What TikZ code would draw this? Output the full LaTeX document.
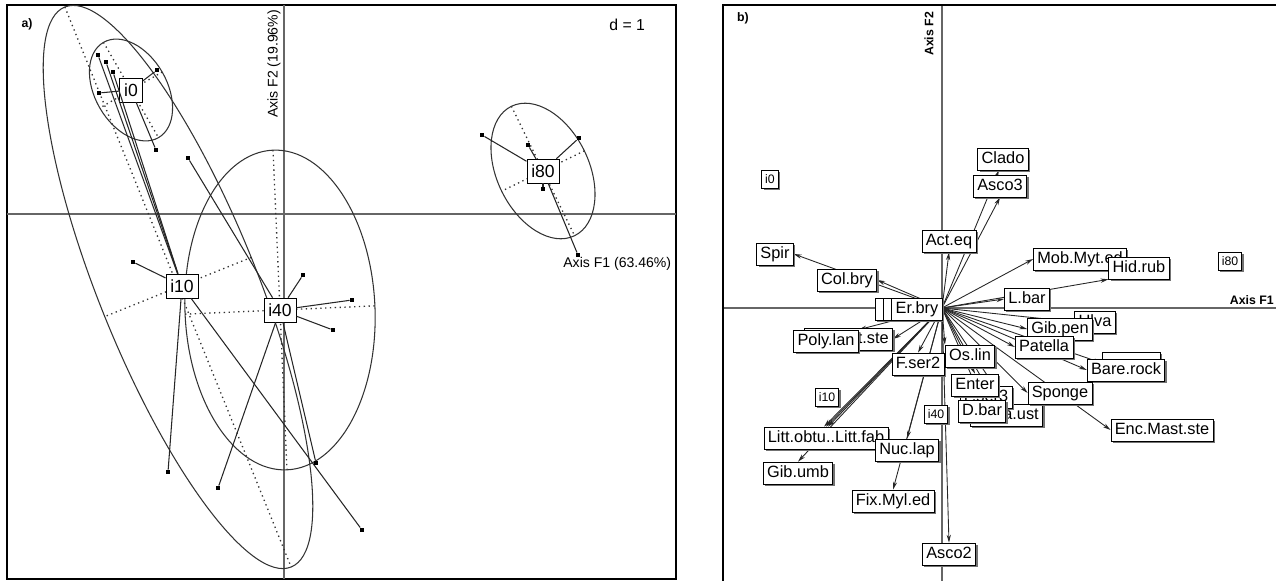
\documentclass[tikz,border=0pt]{standalone}
\usepackage{fontspec}
\setmainfont{Liberation Sans}
\usetikzlibrary{calc,positioning,arrows.meta,shadows,backgrounds}

\tikzset{
  axisline/.style={draw=black!60, line width=1.2pt},
  frameline/.style={draw=black, line width=0.9pt},
  ell/.style={draw=black!80, line width=0.6pt},
  ellaxis/.style={draw=black!80, line width=0.75pt, dotted},
  spoke/.style={draw=black!85, line width=0.6pt},
  pt/.style={fill=black, inner sep=0pt, minimum size=2.4pt},
  grp/.style={draw, fill=white, inner xsep=2.5pt, inner ysep=3pt, text height=7.3pt, text depth=0.3pt, font=\fontsize{10}{12}\selectfont},
  spc/.style={draw, fill=white, inner xsep=2.2pt, inner ysep=1.75pt, text height=7pt, text depth=2pt, font=\fontsize{9.3}{11}\selectfont, drop shadow={shadow xshift=1.1pt, shadow yshift=-1.1pt, fill=black!55, opacity=1}},
  smallgrp/.style={spc, inner xsep=2pt, inner ysep=2.5pt, text height=5.2pt, text depth=0.2pt, font=\fontsize{7}{8}\selectfont},
  axislabel/.style={font=\fontsize{8}{9}\selectfont, inner sep=0pt},
  arr/.style={draw=black!85, line width=0.5pt, -{Stealth[length=4.5pt, width=2.4pt]}},
}

\begin{document}
\begin{tikzpicture}[x=0.02cm, y=-0.02cm]
    \useasboundingbox (0,0) rectangle (1276,581);

    % a) classes
    \draw[frameline] (7,5) rectangle (676,579);
    \begin{scope}
        \clip (7,5) rectangle (676,579);
        \draw[axisline] (7,214) -- (676,214);
        \draw[axisline] (284,5) -- (284,579);
        \begin{scope}[rotate around={-60:(131,90)}]
            \draw[ell] (131,90) ellipse [x radius=55, y radius=36];
            \draw[ellaxis] (76,90) -- (186,90) (131,54) -- (131,126);
        \end{scope}
        \begin{scope}[rotate around={-68:(178,287)}]
            \draw[ell] (178,287) ellipse [x radius=302, y radius=79];
            \draw[ellaxis] (-124,287) -- (480,287) (178,208) -- (178,366);
        \end{scope}
        \begin{scope}[rotate around={2.5:(280,310)}]
            \draw[ell] (280,310) ellipse [x radius=95, y radius=160];
            \draw[ellaxis] (185,310) -- (375,310) (280,150) -- (280,470);
        \end{scope}
        \begin{scope}[rotate around={-64:(543,171)}]
            \draw[ell] (543,171) ellipse [x radius=72, y radius=46];
            \draw[ellaxis] (471,171) -- (615,171) (543,125) -- (543,217);
        \end{scope}
    \end{scope}

    \node[grp] (i0) at (131,90) {i0};
    \node[grp] (i10) at (182,286) {i10};
    \node[grp] (i40) at (280,310) {i40};
    \node[grp] (i80) at (543,171) {i80};

    \foreach \p [count=\k] in {(157,70),(99,93),(156,150)} {
        \node[pt] (pa\k) at \p {};
        \draw[spoke] (i0) -- (pa\k);
    }
    \foreach \p [count=\k] in {(98,55),(106,62),(113,72),(133,262),(168,472),(362,530)} {
        \node[pt] (pb\k) at \p {};
        \draw[spoke] (i10) -- (pb\k);
    }
    \foreach \p [count=\k] in {(188,158),(303,275),(352,300),(333,330),(218,488),(316,463)} {
        \node[pt] (pc\k) at \p {};
        \draw[spoke] (i40) -- (pc\k);
    }
    \foreach \p [count=\k] in {(482,135),(579,138),(528,145),(543,189),(578,255)} {
        \node[pt] (pd\k) at \p {};
        \draw[spoke] (i80) -- (pd\k);
    }

    \node[font=\bfseries\fontsize{7}{8}\selectfont] (tagA) at (27,24) {a)};
    \node[font=\fontsize{9}{10}\selectfont, anchor=west, inner sep=0pt] (scaleA) at (609,25) {d = 1};
    \node[axislabel, rotate=90] (axF2a) at (274,64) {Axis F2 (19.96\%)};
    \node[axislabel, anchor=west] (axF1a) at (563,264) {Axis F1 (63.46\%)};

    % b) species
    \draw[frameline] (723,581) -- (723,5) -- (1276,5);
    \coordinate (O) at (942,308);
    \node[font=\bfseries\fontsize{7}{8}\selectfont] (tagB) at (743,18) {b)};
    \node[axislabel, font=\bfseries\fontsize{7}{8}\selectfont, rotate=90] (axF2b) at (929,34) {Axis F2};
    \node[axislabel, font=\bfseries\fontsize{7}{8}\selectfont, anchor=east] (axF1b) at (1274,300) {Axis F1};

    \node[smallgrp] (r0) at (770,179) {i0};
    \node[smallgrp] (r10) at (827,397) {i10};
    \node[smallgrp] (r40) at (936,414) {i40};
    \node[smallgrp] (r80) at (1230,261) {i80};

    \node[spc] (spir) at (775,254) {Spir};
    \node[spc] (colbry) at (847,280) {Col.bry};
    \node[spc] (clado) at (1003,159) {Clado};
    \node[spc] (asco3) at (1000,186) {Asco3};
    \node[spc] (acteq) at (949,241) {Act.eq};
    \node[spc] (mobmyt) at (1080,259) {Mob.Myt.ed};
    \node[spc] (hidrub) at (1139,268) {Hid.rub};
    \node[spc] (lbar) at (1027,299) {L.bar};
    \node[spc, minimum width=1cm] (hida) at (900,309) {};
    \node[spc, minimum width=0.94cm] (hidb) at (907,309) {};
    \node[spc] (erbry) at (917,309) {Er.bry};
    \node[spc, text width=46pt, align=right, anchor=east] (tste) at (893,339) {t.ste};
    \node[spc] (polylan) at (826,341) {Poly.lan};
    \node[spc] (fser2) at (918,364) {F.ser2};
    \node[spc] (oslin) at (970,356) {Os.lin};
    \node[spc] (ulva) at (1095,322) {Ulva};
    \node[spc] (gibpen) at (1060,329) {Gib.pen};
    \node[spc] (patella) at (1044,347) {Patella};
    \node[spc, minimum width=1.16cm] (hidc) at (1131,363) {};
    \node[spc] (barerock) at (1126,370) {Bare.rock};
    \node[spc, text width=37pt, align=right, anchor=east] (aust) at (1043,415) {a.ust};
    \node[spc] (fser3) at (986,397) {F.ser3};
    \node[spc] (enter) at (975,385) {Enter};
    \node[spc] (dbar) at (982,411) {D.bar};
    \node[spc] (sponge) at (1060,393) {Sponge};
    \node[spc] (encmast) at (1162,430) {Enc.Mast.ste};
    \node[spc] (litt) at (826,438) {Litt.obtu..Litt.fab};
    \node[spc] (nuclap) at (907,450) {Nuc.lap};
    \node[spc] (gibumb) at (798,473) {Gib.umb};
    \node[spc] (fixmyl) at (893,501) {Fix.Myl.ed};
    \node[spc] (asco2) at (949,554) {Asco2};

    \begin{scope}[on background layer]
        \draw[axisline] (723,308) -- (1276,308);
        \draw[axisline] (942,5) -- (942,581);
        \draw[arr] (O) -- (spir.east);
        \draw[arr] (O) -- (colbry.east);
        \draw[arr] (O) -- (clado.250);
        \draw[arr] (O) -- (asco3.south);
        \draw[arr] (O) -- (acteq.south);
        \draw[arr] (O) -- (mobmyt.west);
        \draw[arr] (O) -- (hidrub.south west);
        \draw[arr] (O) -- (lbar.west);
        \draw[arr] (O) -- (ulva.west);
        \draw[arr] (O) -- (gibpen.west);
        \draw[arr] (O) -- (patella.west);
        \draw[arr] (O) -- (hidc.west);
        \draw[arr] (O) -- (barerock.west);
        \draw[arr] (O) -- (sponge.west);
        \draw[arr] (O) -- (encmast.west);
        \draw[arr] (O) -- (oslin.north west);
        \draw[arr] (O) -- (enter.north);
        \draw[arr] (O) -- (fser3.north);
        \draw[arr] (O) -- (dbar.north);
        \draw[arr] (O) -- (aust.north);
        \draw[arr] (O) -- (fser2.north);
        \draw[arr] (O) -- (tste.east);
        \draw[arr] (O) -- (polylan.north east);
        \draw[arr] (O) -- (litt.80);
        \draw[arr] (O) -- (litt.north);
        \draw[arr] (O) -- (litt.100);
        \draw[arr] (O) -- (gibumb.north);
        \draw[arr] (O) -- (nuclap.north);
        \draw[arr] (O) -- (fixmyl.north);
        \draw[arr] (O) -- (asco2.north);
    \end{scope}
\end{tikzpicture}
\end{document}
